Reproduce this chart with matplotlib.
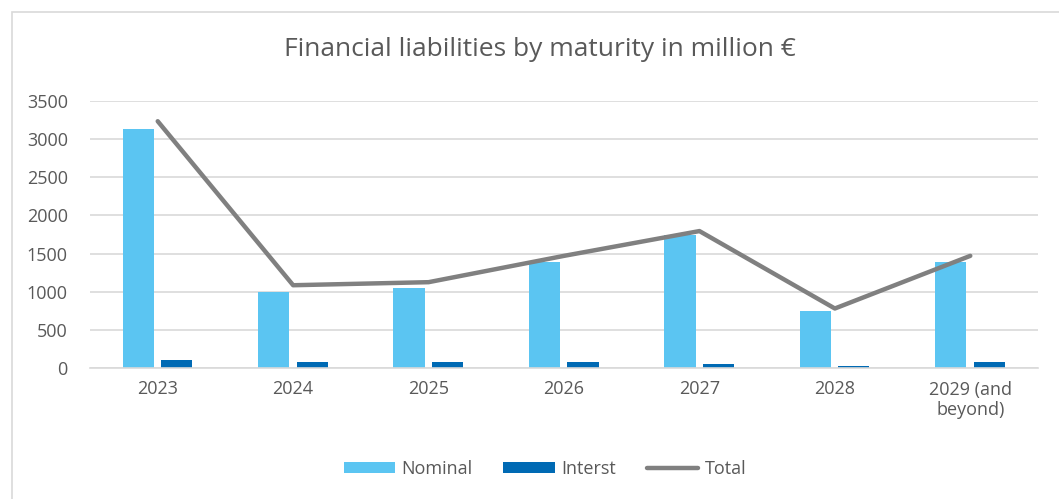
import numpy as np
import matplotlib.pyplot as plt
from matplotlib.patches import Rectangle

# Data (million €)
years = ['2023', '2024', '2025', '2026', '2027', '2028', '2029 (and\nbeyond)']
nominal = [3130, 1000, 1050, 1395, 1745, 750, 1390]
interest = [105, 82, 78, 75, 52, 26, 80]
total = [3235, 1085, 1125, 1470, 1795, 780, 1470]

plt.rcParams['font.family'] = ['Open Sans', 'DejaVu Sans']

fig = plt.figure(figsize=(10.59, 4.99), dpi=100)
ax = fig.add_axes([90 / 1059, 1 - 368 / 499, 948 / 1059, 267 / 499])

x = np.arange(len(years))
w = 0.23
b1 = ax.bar(x - 0.144, nominal, w, color='#5BC5F2', label='Nominal', zorder=2)
b2 = ax.bar(x + 0.14, interest, w, color='#006AB4', label='Interst', zorder=2)
l1, = ax.plot(x, total, color='#808080', lw=3.2, label='Total', zorder=3,
              solid_capstyle='round')

ax.set_xlim(-0.5, len(years) - 0.5)
ax.set_ylim(0, 3500)
ax.set_yticks(range(0, 3501, 500))
ax.set_xticks(x)
ax.set_xticklabels(years, linespacing=1.2)
ax.tick_params(length=0, labelsize=13, colors='#595959')
ax.tick_params(axis='x', pad=9)
ax.tick_params(axis='y', pad=16)
ax.grid(axis='y', color='#d9d9d9', lw=1.2, zorder=0)
for s in ['top', 'right', 'left']:
    ax.spines[s].set_visible(False)
ax.spines['bottom'].set_color('#d9d9d9')
ax.spines['bottom'].set_linewidth(1.2)

fig.text(540 / 1059, 1 - 50 / 499, 'Financial liabilities by maturity in million €',
         ha='center', va='center', fontsize=19, color='#595959')

fig.legend([b1, b2, l1], ['Nominal', 'Interst', 'Total'],
           loc='center', bbox_to_anchor=(545 / 1059, 1 - 469 / 499), ncol=3,
           frameon=False, fontsize=13, labelcolor='#595959',
           handlelength=2.85, handleheight=0.6, columnspacing=1.7, handletextpad=0.35)

# light chart border
fig.patches.append(Rectangle((12 / 1059, -0.01), 1.1, 1 - 12 / 499 + 0.01,
                             transform=fig.transFigure, fill=False,
                             edgecolor='#d9d9d9', lw=1.2))

fig.savefig('out.png', dpi=100)
